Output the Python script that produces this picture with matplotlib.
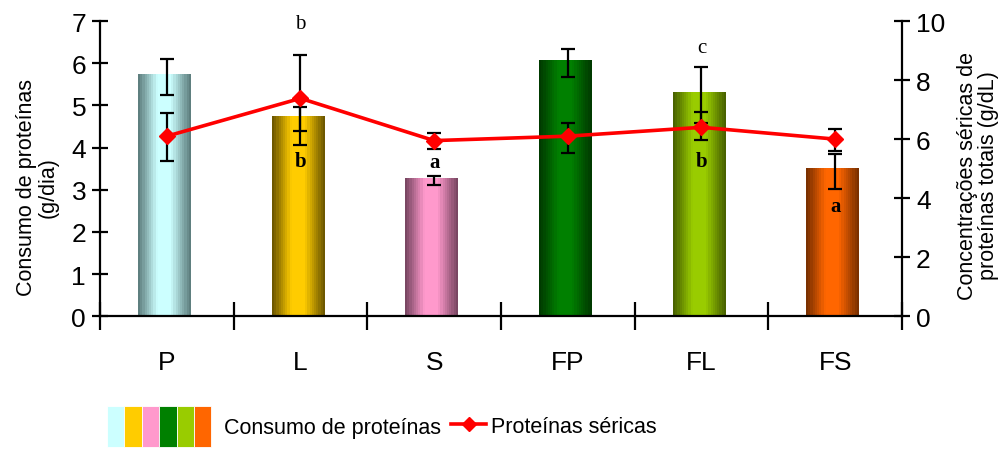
import numpy as np
import matplotlib.pyplot as plt
from matplotlib.colors import LinearSegmentedColormap
from matplotlib.patches import Rectangle
from matplotlib.lines import Line2D
from matplotlib.legend_handler import HandlerTuple

plt.rcParams['font.family'] = ['Liberation Sans', 'DejaVu Sans']

categories = ["P", "L", "S", "FP", "FL", "FS"]
consumo = [5.72, 4.72, 3.25, 6.05, 5.29, 3.49]
consumo_err_low = [0.47, 0.66, 0.14, 0.37, 0.71, 0.47]
consumo_err_high = [0.38, 0.25, 0.07, 0.28, 0.62, 0.36]
sericas = [6.10, 7.38, 5.95, 6.10, 6.40, 6.00]
sericas_err_low = [0.84, 1.09, 0.27, 0.56, 0.43, 0.40]
sericas_err_high = [0.79, 1.48, 0.27, 0.45, 0.51, 0.35]

light_colors = ["#CCFFFF", "#FFCC00", "#FF99CC", "#008000", "#99CC00", "#FF6600"]
dark_colors = ["#5E7F7F", "#6E5800", "#7A4763", "#003A00", "#4A6300", "#7A3000"]

# significance letters
letter_cat = [1, 1, 2, 4, 4, 5]
letter_y = [6.93, 3.68, 3.65, 6.38, 3.68, 2.62]
letter_txt = ["b", "b", "a", "c", "b", "a"]
letter_bold = [False, True, True, False, True, True]

x = np.arange(len(categories))

fig = plt.figure(figsize=(10.08, 4.52), dpi=100)
ax = fig.add_axes([100 / 1008, 1 - 317.3 / 452, 802 / 1008, 295.3 / 452])

bars = ax.bar(x - 0.02, consumo, width=0.39, color="none", zorder=2)
grad = np.linspace(0, 1, 24).reshape(1, -1)
for rect, lc, dc in zip(bars, light_colors, dark_colors):
    cmap = LinearSegmentedColormap.from_list(
        "cyl", [(0, dc), (0.36, lc), (0.62, lc), (1, dc)])
    x0, w, h = rect.get_x(), rect.get_width(), rect.get_height()
    ax.imshow(grad, cmap=cmap, extent=[x0, x0 + w, 0, h], aspect="auto",
              interpolation="nearest", zorder=2)

ax.errorbar(x, consumo, yerr=[consumo_err_low, consumo_err_high], fmt="none",
            ecolor="black", elinewidth=1.6, capsize=5, capthick=1.6, zorder=3)

for c, yv, t, b in zip(letter_cat, letter_y, letter_txt, letter_bold):
    ax.text(x[c], yv, t, ha="center", va="center", fontsize=15,
            family=["Liberation Serif", "DejaVu Serif"],
            fontweight="bold" if b else "normal", zorder=4)

ax.set_xlim(-0.5, 5.5)
ax.set_ylim(0, 7)
ax.set_yticks(range(0, 8))
ax.set_xticks(np.arange(-0.5, 6, 1))
ax.set_xticklabels([])
ax.set_xticks(x, minor=True)
ax.set_xticklabels(categories, minor=True)
ax.tick_params(axis="x", which="major", direction="inout", length=20, width=1.6)
ax.tick_params(axis="x", which="minor", length=0, pad=24, labelsize=19)
ax.tick_params(axis="y", direction="inout", length=12, width=1.6, labelsize=19, pad=4)
for s in ["left", "bottom"]:
    ax.spines[s].set_linewidth(1.6)
ax.spines["top"].set_visible(False)
ax.spines["right"].set_visible(False)
ax.set_ylabel("Consumo de proteínas\n(g/dia)", fontsize=15.5, linespacing=1.0)
ax.yaxis.set_label_coords(-0.052, 0.44)

ax2 = ax.twinx()
ax2.errorbar(x, sericas, yerr=[sericas_err_low, sericas_err_high], fmt="none",
             ecolor="black", elinewidth=1.6, capsize=5, capthick=1.6, zorder=3)
ax2.plot(x, sericas, color="#FF0000", linewidth=2.6, marker="D", markersize=8,
         zorder=4)
ax2.set_ylim(0, 10)
ax2.set_yticks(range(0, 11, 2))
ax2.tick_params(axis="y", direction="inout", length=12, width=1.6, labelsize=19, pad=4)
ax2.spines["top"].set_visible(False)
ax2.spines["left"].set_visible(False)
ax2.spines["bottom"].set_visible(False)
ax2.spines["right"].set_linewidth(1.6)
ax2.set_ylabel("Concentrações séricas de\nproteínas totais (g/dL)", fontsize=15.5,
               linespacing=1.0)
ax2.yaxis.set_label_coords(1.068, 0.48)

# legend
boxes = tuple(Rectangle((0, 0), 1, 1, facecolor=c, edgecolor="white", linewidth=0.6)
              for c in light_colors)
leg1 = fig.legend([boxes], ["Consumo de proteínas"],
                  handler_map={tuple: HandlerTuple(ndivide=None, pad=0)},
                  loc="center left", bbox_to_anchor=(107 / 1008, 1 - 427.5 / 452),
                  frameon=False, fontsize=15.5, handlelength=4.85, handleheight=2.6,
                  handletextpad=0.6, borderpad=0, borderaxespad=0)
fig.canvas.draw()
bb = leg1.get_window_extent()
fig.legend([Line2D([], [], color="#FF0000", linewidth=2.6, marker="D", markersize=7)],
           ["Proteínas séricas"], loc="center left",
           bbox_to_anchor=((bb.x1 + 10) / 1008, 1 - 427.5 / 452), frameon=False,
           fontsize=15.5, handlelength=1.6, handletextpad=0.25, borderpad=0,
           borderaxespad=0)

plt.savefig("out.png", dpi=100)
